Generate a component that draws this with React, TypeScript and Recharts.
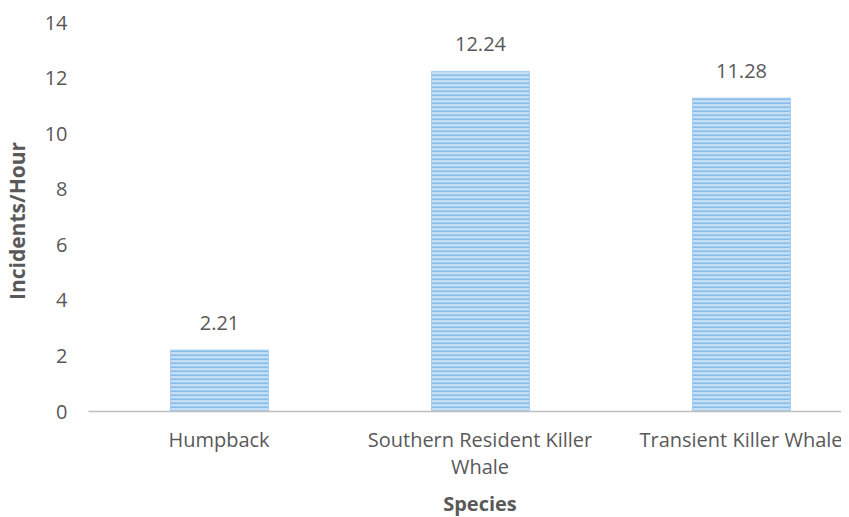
import React from 'react';
import { BarChart, Bar, XAxis, YAxis, LabelList } from 'recharts';

const categories = ['Humpback', 'Southern Resident Killer Whale', 'Transient Killer Whale'];
const values = [2.21, 12.24, 11.28];
const yTicks = [0, 2, 4, 6, 8, 10, 12, 14];

const data = categories.map((c, i) => ({ species: c, value: values[i] }));

const FONT = "'Open Sans', sans-serif";
const GRAY = '#595959';

const wrap = (s: string, maxChars: number) => {
  const words = s.split(' ');
  const lines: string[] = [];
  let cur = '';
  for (const w of words) {
    const next = cur ? cur + ' ' + w : w;
    if (next.length > maxChars && cur) {
      lines.push(cur);
      cur = w;
    } else {
      cur = next;
    }
  }
  if (cur) lines.push(cur);
  return lines;
};

const CatTick = (props: any) => {
  const { x, y, payload } = props;
  const lines = wrap(String(payload.value), 24);
  return (
    <text x={x} y={y} textAnchor="middle" style={{ fontFamily: FONT, fontSize: 20, fill: GRAY }}>
      {lines.map((l, i) => (
        <tspan key={i} x={x} dy={i === 0 ? '0.71em' : 27}>
          {l}
        </tspan>
      ))}
    </text>
  );
};

export default function App() {
  return (
    <div style={{ marginLeft: -8, marginTop: -8, width: 849, height: 517, overflow: 'hidden', background: '#fff' }}>
      <BarChart
        width={880}
        height={517}
        data={data}
        margin={{ top: 22.5, right: 8.5, bottom: 45.5, left: 0 }}
      >
        <defs>
          <pattern id="stripes" patternUnits="userSpaceOnUse" width="8" height="4">
            <rect x="0" y="0" width="8" height="4" fill="#c3def5" />
            <rect x="0" y="2.5" width="8" height="1.5" fill="#84bbe8" />
          </pattern>
        </defs>
        <XAxis
          dataKey="species"
          height={60}
          axisLine={{ stroke: '#bfbfbf', strokeWidth: 1.5 }}
          tickLine={false}
          tickSize={0}
          tickMargin={21}
          tick={<CatTick />}
          interval={0}
          label={{ value: 'Species', position: 'bottom', offset: 25, style: { fontFamily: FONT, fontSize: 20, fontWeight: 'bold', fill: GRAY } }}
        />
        <YAxis
          width={88.5}
          domain={[0, 14]}
          ticks={yTicks}
          axisLine={false}
          tickLine={false}
          tickSize={0}
          tickMargin={21}
          tick={{ fontFamily: FONT, fontSize: 20, fill: GRAY }}
          label={{ value: 'Incidents/Hour', angle: -90, position: 'insideLeft', offset: 18, dy: 4, style: { textAnchor: 'middle', fontFamily: FONT, fontSize: 21, fontWeight: 'bold', fill: GRAY } }}
        />
        <Bar dataKey="value" barSize={98} fill="url(#stripes)" stroke="#a9cff0" strokeWidth={1} isAnimationActive={false}>
          <LabelList dataKey="value" position="top" offset={20} style={{ fontFamily: FONT, fontSize: 20, fill: GRAY }} formatter={(v: any) => Number(v).toFixed(2)} />
        </Bar>
      </BarChart>
    </div>
  );
}
